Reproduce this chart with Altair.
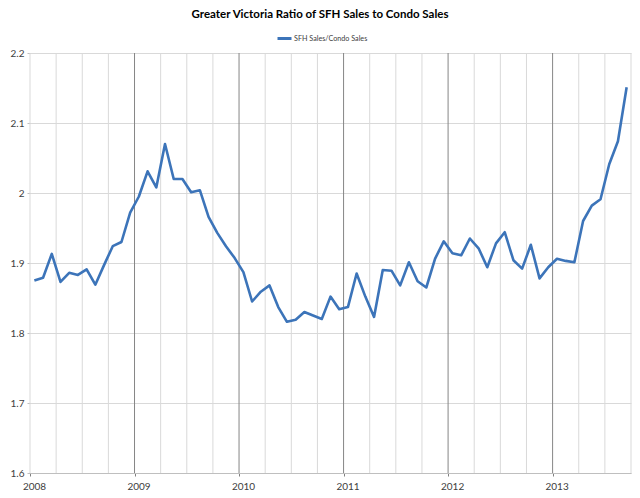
import altair as alt
import pandas as pd

title_text = "Greater Victoria Ratio of SFH Sales to Condo Sales"
series_name = "SFH Sales/Condo Sales"

years = [2008, 2009, 2010, 2011, 2012, 2013]
ratio_2008 = [1.875, 1.879, 1.913, 1.873, 1.886, 1.883, 1.891, 1.869, 1.897, 1.924, 1.930, 1.972]
ratio_2009 = [1.995, 2.031, 2.008, 2.070, 2.020, 2.020, 2.001, 2.004, 1.966, 1.943, 1.924, 1.907]
ratio_2010 = [1.887, 1.845, 1.859, 1.868, 1.837, 1.816, 1.819, 1.830, 1.825, 1.820, 1.852, 1.834]
ratio_2011 = [1.837, 1.885, 1.852, 1.823, 1.890, 1.889, 1.868, 1.901, 1.874, 1.865, 1.906, 1.931]
ratio_2012 = [1.914, 1.911, 1.935, 1.921, 1.894, 1.928, 1.944, 1.904, 1.892, 1.926, 1.878, 1.894]
ratio_2013 = [1.906, 1.903, 1.901, 1.960, 1.982, 1.991, 2.041, 2.074, 2.151]
series = [ratio_2008, ratio_2009, ratio_2010, ratio_2011, ratio_2012, ratio_2013]

y_ticks = [1.6, 1.7, 1.8, 1.9, 2.0, 2.1, 2.2]
year_lines = [2009, 2010, 2011, 2012, 2013]
quarter_lines = [2008.0, 2008.25, 2008.5, 2008.75, 2009.25, 2009.5, 2009.75,
                 2010.25, 2010.5, 2010.75, 2011.25, 2011.5, 2011.75,
                 2012.25, 2012.5, 2012.75, 2013.25, 2013.5, 2013.75]

rows = []
for yr, vals in zip(years, series):
    for mi, v in enumerate(vals):
        rows.append({"t": yr + (mi + 0.5) / 12, "ratio": v, "series": series_name})
df = pd.DataFrame(rows)

FONT = "Lato"
LINE_COLOR = "#3c74b9"

xscale = alt.Scale(domain=[2008, 2013.75], nice=False, zero=False)
xaxis = alt.Axis(values=years, format="d", grid=False, title=None,
                 labelOffset=4, labelFlush=False, labelFont=FONT, labelFontSize=10,
                 labelColor="#404040", labelPadding=5, tickSize=3,
                 tickColor="#808080", domainColor="#bfbfbf")
yscale = alt.Scale(domain=[1.6, 2.2], nice=False, zero=False)
yaxis = alt.Axis(values=y_ticks, format="~g", title=None, grid=True,
                 gridColor="#d9d9d9", domain=False, tickSize=3, tickColor="#bfbfbf",
                 labelFont=FONT, labelFontSize=10, labelColor="#404040", labelPadding=3)

x_enc = alt.X("t:Q", scale=xscale, axis=xaxis)

quarter_rules = alt.Chart(pd.DataFrame({"t": quarter_lines})).mark_rule(
    color="#d9d9d9", strokeWidth=1).encode(x=x_enc)
year_rules = alt.Chart(pd.DataFrame({"t": year_lines})).mark_rule(
    color="#868686", strokeWidth=1).encode(x=x_enc)

line = alt.Chart(df).mark_line(strokeWidth=2.6, strokeJoin="round").encode(
    x=x_enc,
    y=alt.Y("ratio:Q", scale=yscale, axis=yaxis),
    color=alt.Color("series:N", scale=alt.Scale(range=[LINE_COLOR]),
                    legend=alt.Legend(orient="none", legendX=246, legendY=-23,
                                      title=None, symbolType="stroke",
                                      symbolStrokeWidth=3, symbolSize=196,
                                      labelFont=FONT, labelFontSize=7.2,
                                      labelColor="#404040", labelOffset=1,
                                      padding=0)),
)

title = alt.Chart(pd.DataFrame({"label": [title_text]})).mark_text(
    font=FONT, fontSize=11.5, fontWeight="bold", color="#000000",
    align="center", baseline="middle").encode(
    text="label:N", x=alt.value(290), y=alt.value(-38))

chart = alt.layer(quarter_rules, year_rules, line, title).properties(
    width=601, height=420,
    autosize=alt.AutoSizeParams(type="none"),
    padding={"left": 22, "top": 45, "right": 1, "bottom": 17},
).configure_view(strokeWidth=0)

chart.save("out.html", embed_options={"renderer": "svg", "actions": False})
